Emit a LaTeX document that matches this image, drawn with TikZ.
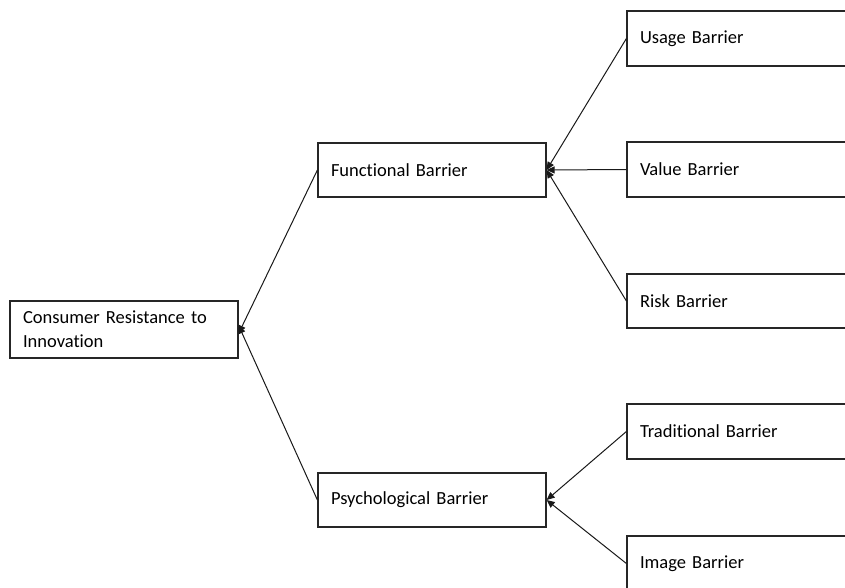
\documentclass[tikz,border=0pt]{standalone}
\usepackage{fontspec}
\setmainfont[Ligatures={NoCommon}]{Carlito}
\usetikzlibrary{arrows.meta}
\begin{document}
\begin{tikzpicture}[x=1pt,y=-1pt,
  box/.style={draw=black!85,line width=1.2pt,rectangle,inner xsep=13pt,inner ysep=0pt,
    align=left,font=\fontsize{18.5}{24}\selectfont,minimum height=55pt},
  leftbox/.style={box,text width=202pt},
  rightbox/.style={box,text width=214pt},
  conn/.style={draw=black!90,line width=1pt,-{Triangle[length=8pt,width=7pt]}}]
\useasboundingbox (0,0) rectangle (845,587);
\clip (0,0) rectangle (845,587);
\node[leftbox,minimum height=57pt] (cri) at (124,329.5) {Consumer Resistance to\\Innovation};
\node[leftbox,minimum height=54pt] (fb) at (432,170) {Functional Barrier};
\node[leftbox,minimum height=54pt] (pb) at (432,500) {Psychological Barrier};
\node[rightbox] (ub) at (747,38.5) {Usage Barrier};
\node[rightbox] (vb) at (747,169.5) {Value Barrier};
\node[rightbox,minimum height=54pt] (rb) at (747,301) {Risk Barrier};
\node[rightbox] (tb) at (747,431.5) {Traditional Barrier};
\node[rightbox] (ib) at (747,563.5) {Image Barrier};
\draw[conn] (ub.west) -- (fb.east);
\draw[conn] (vb.west) -- (fb.east);
\draw[conn] (rb.west) -- (fb.east);
\draw[conn] (tb.west) -- (pb.east);
\draw[conn] (ib.west) -- (pb.east);
\draw[conn] (fb.west) -- ([yshift=-4pt]cri.east);
\draw[conn] (pb.west) -- ([yshift=4pt]cri.east);
\end{tikzpicture}
\end{document}
